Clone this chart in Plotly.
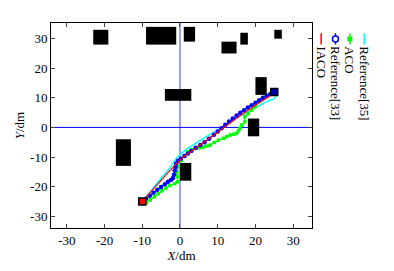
import plotly.graph_objects as go

# ---------------- data ----------------
iaco_x = [-10, -6, -3, -0.5, 0.8, 3.4, 7.5, 11.5, 16, 20, 24.3, 25]
iaco_y = [-25, -19.2, -15, -11.7, -10, -7.7, -3.8, 0, 4, 7.5, 11, 12]

ref35_x = [-10, -7.6, -5, -2.3, -1, 0.35, 2.1, 3.4, 7, 11.3, 15, 20, 23, 24.7, 25.4, 25]
ref35_y = [-25, -21.3, -17.2, -13, -10.5, -8.8, -7.1, -6, -3.1, 0.3, 3.2, 6.6, 8.8, 9.6, 10.5, 12]

ref33_x = [-10, -9, -8, -7, -6, -5, -4, -3.2, -2.4, -1.9, -1.6, -1.4, -1.2, -1, -0.5, 0.2, 1.2, 2.1, 3, 4.2, 5.4, 6.5,
           7.7, 9, 10, 11, 12, 13, 14, 15, 16, 17, 18, 19, 20, 21, 22, 23, 24, 25]
ref33_y = [-25, -24.1, -23.1, -22.1, -21.1, -20.1, -19.2, -18.4, -17.8, -17.2, -16, -14.6, -13.4, -12.2, -11.3, -10.6, -9.7,
           -8.8, -8, -6.9, -5.9, -5, -3.8, -2.5, -1.4, -0.3, 0.9, 2, 3, 4, 5, 5.8, 6.7, 7.5, 8.3, 9.2, 10, 10.7, 11.3, 12]

aco_x = [-10, -8.9, -7.9, -6.8, -5.8, -4.8, -3.7, -2.7, -1.4, -0.7, -0.7, -1, -0.8, -0.5, 0.35, 1.2, 2.1, 3, 4, 5.1, 6.2,
         7.1, 8, 9.1, 10.2, 11.5, 12.4, 13.3, 14.2, 15, 15.5, 15.9, 16.4, 17.2, 17.2, 18.1, 19, 19.9, 20.8, 21.8, 22.8,
         23.9, 25]
aco_y = [-25, -25.5, -24.5, -23.4, -22.4, -21.4, -20.5, -19.6, -19, -18.4, -16.7, -15.8, -15, -13.3, -11.1, -9.5, -8.3,
         -7.6, -7.1, -6.9, -6.6, -6.3, -6, -5.1, -4.3, -3.7, -3.1, -2.6, -2.3, -2, -1.2, -0.3, 0.8, 1.9, 3.6, 4.7, 5.9, 7,
         8.7, 9.6, 10.4, 11.2, 12]

obs_x0 = [-23, -9, 1, -4, 11, 16, 25, 20, 18, -17, 0]
obs_x1 = [-19, -1, 4, 3, 15, 18, 27, 23, 21, -13, 3]
obs_y0 = [28, 28, 29, 9, 25, 28, 30, 11, -3, -13, -18]
obs_y1 = [33, 34, 34, 13, 29, 32, 33, 17, 3, -4, -12]

start_pt = (-10, -25)
goal_pt = (25, 12)

tick_vals = [-30, -20, -10, 0, 10, 20, 30]
tick_text = ["-30", "-20", "-10", "0", "10", "20", "30"]

legend_names = ["IACO", "Reference[33]", "ACO", "Reference[35]"]
legend_colors = ["#ff0000", "#0000ff", "#00ff00", "#00ffff"]

# ---------------- figure ----------------
FONT = "Liberation Serif, Times New Roman, serif"
fig = go.Figure()

shapes = []
for x0, x1, y0, y1 in zip(obs_x0, obs_x1, obs_y0, obs_y1):
    shapes.append(dict(type="rect", xref="x", yref="y", x0=x0, x1=x1, y0=y0, y1=y1,
                       fillcolor="black", line=dict(width=0), layer="below"))
# axis lines through origin
shapes.append(dict(type="line", xref="x", yref="paper", x0=0, x1=0, y0=0, y1=1,
                   line=dict(color="#3c3cff", width=1), layer="below"))
shapes.append(dict(type="line", xref="paper", yref="y", x0=0, x1=1, y0=0, y1=0,
                   line=dict(color="#0000ff", width=1), layer="below"))

fig.add_trace(go.Scatter(x=ref35_x, y=ref35_y, mode="lines", line=dict(color="#00ffff", width=1.5, shape="spline",
                         smoothing=0.6), showlegend=False))
fig.add_trace(go.Scatter(x=aco_x, y=aco_y, mode="lines+markers", line=dict(color="#00ff00", width=1.2),
                         marker=dict(symbol="square", size=3.5, color="#00ff00"), showlegend=False))
fig.add_trace(go.Scatter(x=ref33_x, y=ref33_y, mode="lines+markers", line=dict(color="#0000ff", width=1.2),
                         marker=dict(symbol="circle", size=4.5, color="#0000ff"), showlegend=False))
fig.add_trace(go.Scatter(x=iaco_x, y=iaco_y, mode="lines", line=dict(color="#ff0000", width=1.2),
                         showlegend=False))
fig.add_trace(go.Scatter(x=[start_pt[0]], y=[start_pt[1]], mode="markers",
                         marker=dict(symbol="square", size=7, color="#ff0000", line=dict(color="black", width=1.5)),
                         showlegend=False))
fig.add_trace(go.Scatter(x=[goal_pt[0]], y=[goal_pt[1]], mode="markers",
                         marker=dict(symbol="square", size=7, color="#0000aa", line=dict(color="black", width=1.5)),
                         showlegend=False))

# rotated legend drawn in paper coordinates
annotations = []
leg_x = [1.035, 1.09, 1.145, 1.2]
for i, (name, col) in enumerate(zip(legend_names, legend_colors)):
    lx = leg_x[i]
    shapes.append(dict(type="line", xref="paper", yref="paper", x0=lx, x1=lx, y0=0.95, y1=0.895,
                       line=dict(color=col, width=1.5)))
    if i == 1:
        shapes.append(dict(type="circle", xref="paper", yref="paper", xsizemode="pixel", ysizemode="pixel",
                           xanchor=lx, yanchor=0.922, x0=-3, x1=3, y0=-3, y1=3,
                           line=dict(color=col, width=1.5), fillcolor="white"))
    if i == 2:
        shapes.append(dict(type="rect", xref="paper", yref="paper", xsizemode="pixel", ysizemode="pixel",
                           xanchor=lx, yanchor=0.922, x0=-2.5, x1=2.5, y0=-2.5, y1=2.5,
                           line=dict(width=0), fillcolor=col))
    annotations.append(dict(text=name, xref="paper", yref="paper", x=lx, y=0.895, xanchor="center",
                            yanchor="top", textangle=90, showarrow=False,
                            font=dict(family=FONT, size=13, color="black")))

fig.update_layout(
    width=394, height=271,
    margin=dict(l=51, r=82, t=23, b=43),
    paper_bgcolor="white", plot_bgcolor="white",
    shapes=shapes, annotations=annotations,
    font=dict(family=FONT, size=13, color="black"),
    xaxis=dict(range=[-34.2, 35], tickvals=tick_vals, ticktext=tick_text, ticks="inside", ticklen=4,
               showline=True, linecolor="black", linewidth=1, mirror="ticks", showgrid=False, zeroline=False,
               automargin=False,
               title=dict(text="<i>X</i>/dm", font=dict(family=FONT, size=13), standoff=4)),
    yaxis=dict(range=[-34, 35.3], tickvals=tick_vals, ticktext=tick_text, ticks="inside", ticklen=4,
               showline=True, linecolor="black", linewidth=1, mirror="ticks", showgrid=False, zeroline=False,
               automargin=False,
               title=dict(text="<i>Y</i>/dm", font=dict(family=FONT, size=13), standoff=2)),
)

fig.write_html("out.html", config={"displayModeBar": False},
               post_script="document.body.style.margin='0px';")
